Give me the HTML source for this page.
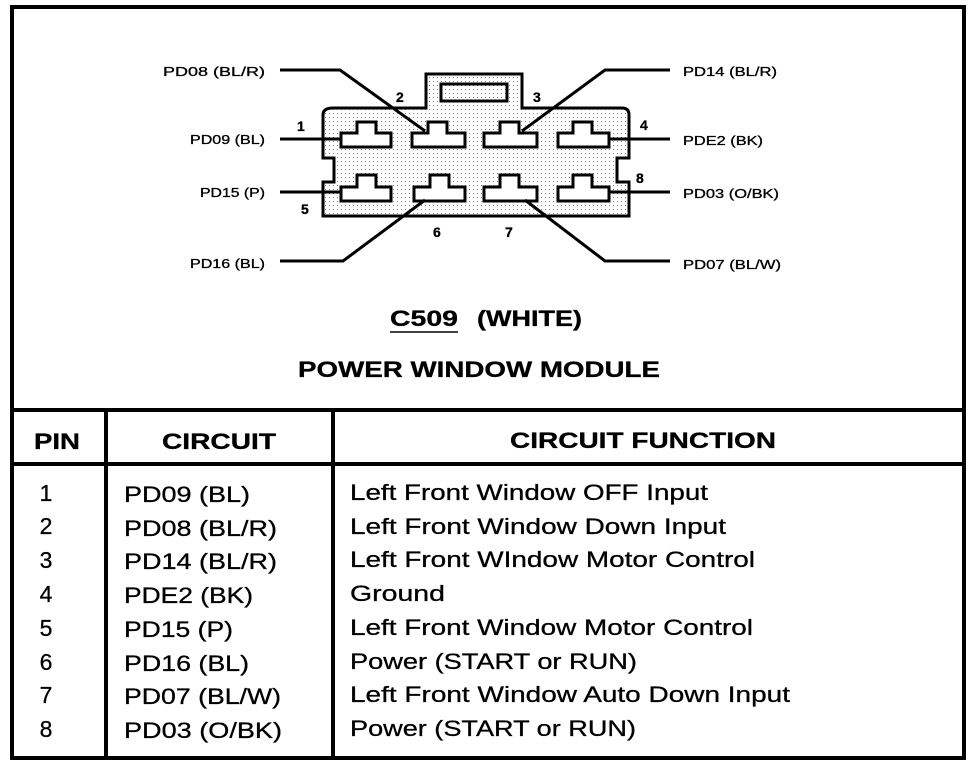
<!DOCTYPE html>
<html><head><style>
html,body{margin:0;padding:0;background:#fff;}
svg{display:block;}
text{font-family:"Liberation Sans",Arial,sans-serif;fill:#000;stroke:#000;stroke-width:0.3;}
</style></head><body>
<svg width="976" height="768" viewBox="0 0 976 768" xmlns="http://www.w3.org/2000/svg">
<defs>
<pattern id="dots" width="4" height="4" patternUnits="userSpaceOnUse">
<rect width="4" height="4" fill="#fff"/><rect x="1" y="1" width="1" height="1" fill="#888"/>
</pattern>
</defs>
<rect x="12" y="7" width="952" height="751" fill="none" stroke="#000" stroke-width="4"/>
<path d="M333,108 L426,108 L426,74 L522,74 L522,108 L622,108 Q629,108 629,115 L629,158 L617,158 L617,182 L629,182 L629,216 L323,216 L323,182 L334,182 L334,158 L323,158 L323,115 Q323,108 333,108 Z" fill="url(#dots)" stroke="#000" stroke-width="3"/>
<rect x="441" y="84" width="66" height="17" fill="url(#dots)" stroke="#000" stroke-width="3"/>
<g fill="#fff" stroke="#000" stroke-width="3">
<path d="M341,133 L357,133 L357,122 L376,122 L376,133 L391,133 L391,147 L341,147 Z"/>
<path d="M412,133 L428,133 L428,122 L447,122 L447,133 L465,133 L465,147 L412,147 Z"/>
<path d="M484,133 L500,133 L500,122 L519,122 L519,133 L537,133 L537,147 L484,147 Z"/>
<path d="M558,133 L573,133 L573,122 L592,122 L592,133 L609,133 L609,147 L558,147 Z"/>
<path d="M341,187 L357,187 L357,175 L376,175 L376,187 L391,187 L391,201 L341,201 Z"/>
<path d="M414,187 L430,187 L430,175 L449,175 L449,187 L465,187 L465,201 L414,201 Z"/>
<path d="M484,187 L500,187 L500,175 L519,175 L519,187 L537,187 L537,201 L484,201 Z"/>
<path d="M558,187 L573,187 L573,175 L592,175 L592,187 L609,187 L609,201 L558,201 Z"/>
</g>
<g fill="none" stroke="#000" stroke-width="3">
<path d="M280,70 L340,70 L425,131"/>
<path d="M670,70 L605,70 L522,131"/>
<path d="M280,139 L341,139"/>
<path d="M609,139 L670,139"/>
<path d="M280,192 L341,192"/>
<path d="M609,192 L670,192"/>
<path d="M280,261 L343,261 L425,200"/>
<path d="M670,261 L605,261 L525,200"/>
</g>
<g font-size="13">
<text x="163" y="76" textLength="102" lengthAdjust="spacingAndGlyphs">PD08 (BL/R)</text>
<text x="190" y="144" textLength="75" lengthAdjust="spacingAndGlyphs">PD09 (BL)</text>
<text x="200" y="197" textLength="65" lengthAdjust="spacingAndGlyphs">PD15 (P)</text>
<text x="190" y="268" textLength="75" lengthAdjust="spacingAndGlyphs">PD16 (BL)</text>
<text x="683" y="76" textLength="94" lengthAdjust="spacingAndGlyphs">PD14 (BL/R)</text>
<text x="683" y="145" textLength="80" lengthAdjust="spacingAndGlyphs">PDE2 (BK)</text>
<text x="683" y="198" textLength="96" lengthAdjust="spacingAndGlyphs">PD03 (O/BK)</text>
<text x="683" y="269" textLength="98" lengthAdjust="spacingAndGlyphs">PD07 (BL/W)</text>
</g>
<g font-size="14" font-weight="bold">
<text x="297" y="131">1</text><text x="396" y="102">2</text><text x="533" y="102">3</text><text x="640" y="130">4</text>
<text x="301" y="214">5</text><text x="433" y="237">6</text><text x="505" y="237">7</text><text x="636" y="183">8</text>
</g>
<text x="390" y="326" font-size="22" font-weight="bold" textLength="68" lengthAdjust="spacingAndGlyphs">C509</text>
<line x1="390" y1="332" x2="458" y2="332" stroke="#000" stroke-width="1.5"/>
<text x="477" y="326" font-size="22" font-weight="bold" textLength="105" lengthAdjust="spacingAndGlyphs">(WHITE)</text>
<text x="298" y="377" font-size="22" font-weight="bold" textLength="362" lengthAdjust="spacingAndGlyphs">POWER WINDOW MODULE</text>
<g stroke="#000" stroke-width="4">
<line x1="12" y1="410" x2="964" y2="410"/>
<line x1="12" y1="464" x2="964" y2="464"/>
<line x1="106" y1="410" x2="106" y2="758"/>
<line x1="333" y1="410" x2="333" y2="758"/>
</g>
<g font-size="22" font-weight="bold">
<text x="34" y="449" textLength="46" lengthAdjust="spacingAndGlyphs">PIN</text>
<text x="162" y="449" textLength="114" lengthAdjust="spacingAndGlyphs">CIRCUIT</text>
<text x="510" y="448" textLength="266" lengthAdjust="spacingAndGlyphs">CIRCUIT FUNCTION</text>
</g>
<g font-size="22">
<g text-anchor="middle" font-size="23">
<text x="46" y="501">1</text><text x="46" y="534">2</text><text x="46" y="568">3</text><text x="46" y="602">4</text>
<text x="46" y="636">5</text><text x="46" y="670">6</text><text x="46" y="703">7</text><text x="46" y="737">8</text>
</g>
<text x="124" y="502" textLength="126" lengthAdjust="spacingAndGlyphs">PD09 (BL)</text>
<text x="124" y="536" textLength="153" lengthAdjust="spacingAndGlyphs">PD08 (BL/R)</text>
<text x="124" y="569" textLength="153" lengthAdjust="spacingAndGlyphs">PD14 (BL/R)</text>
<text x="124" y="603" textLength="129" lengthAdjust="spacingAndGlyphs">PDE2 (BK)</text>
<text x="124" y="637" textLength="109" lengthAdjust="spacingAndGlyphs">PD15 (P)</text>
<text x="124" y="671" textLength="125" lengthAdjust="spacingAndGlyphs">PD16 (BL)</text>
<text x="124" y="704" textLength="157" lengthAdjust="spacingAndGlyphs">PD07 (BL/W)</text>
<text x="124" y="738" textLength="158" lengthAdjust="spacingAndGlyphs">PD03 (O/BK)</text>
<text x="350" y="500" textLength="358" lengthAdjust="spacingAndGlyphs">Left Front Window OFF Input</text>
<text x="350" y="534" textLength="376" lengthAdjust="spacingAndGlyphs">Left Front Window Down Input</text>
<text x="350" y="567" textLength="405" lengthAdjust="spacingAndGlyphs">Left Front WIndow Motor Control</text>
<text x="350" y="601" textLength="95" lengthAdjust="spacingAndGlyphs">Ground</text>
<text x="350" y="635" textLength="403" lengthAdjust="spacingAndGlyphs">Left Front Window Motor Control</text>
<text x="350" y="669" textLength="287" lengthAdjust="spacingAndGlyphs">Power (START or RUN)</text>
<text x="350" y="702" textLength="440" lengthAdjust="spacingAndGlyphs">Left Front Window Auto Down Input</text>
<text x="350" y="736" textLength="286" lengthAdjust="spacingAndGlyphs">Power (START or RUN)</text>
</g>
</svg>
</body></html>
